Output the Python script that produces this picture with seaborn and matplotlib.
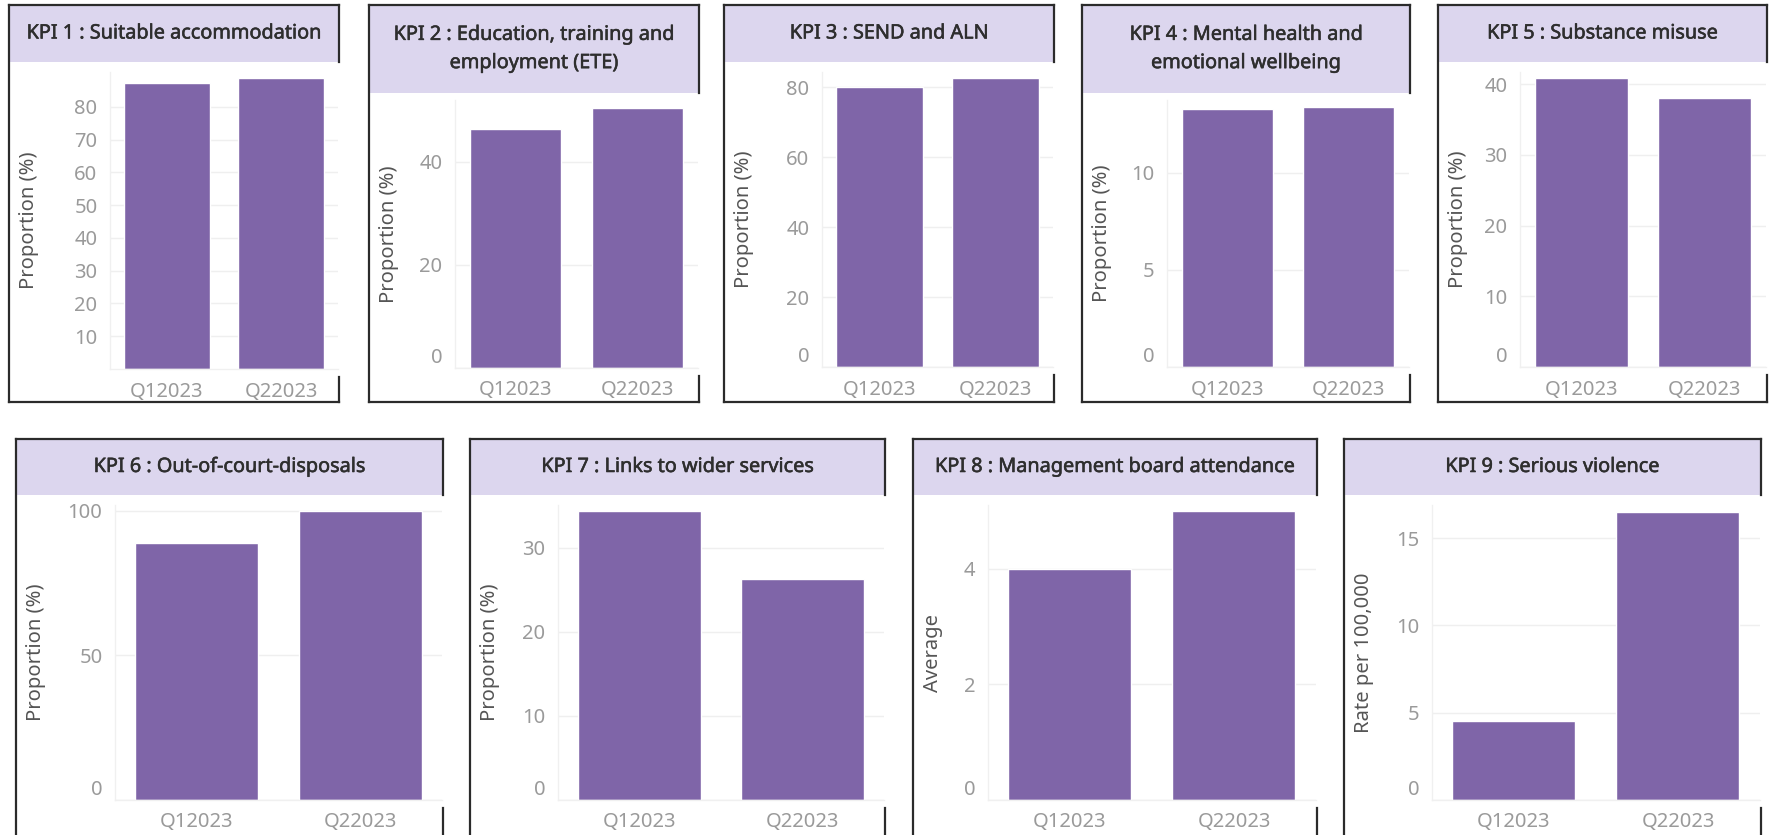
import matplotlib
matplotlib.use("Agg")
import matplotlib.pyplot as plt
import matplotlib.patheffects as pe
from matplotlib.lines import Line2D
from matplotlib.patches import Rectangle
import seaborn as sns
import pandas as pd

# ---- data -------------------------------------------------------------
quarters = ["Q12023", "Q22023"]

titles = [
    "KPI 1 : Suitable accommodation",
    "KPI 2 : Education, training and\nemployment (ETE)",
    "KPI 3 : SEND and ALN",
    "KPI 4 : Mental health and\nemotional wellbeing",
    "KPI 5 : Substance misuse",
    "KPI 6 : Out-of-court-disposals",
    "KPI 7 : Links to wider services",
    "KPI 8 : Management board attendance",
    "KPI 9 : Serious violence",
]

kpi1 = [87.2, 88.7]
kpi2 = [46.4, 50.5]
kpi3 = [80.0, 82.6]
kpi4 = [13.3, 13.4]
kpi5 = [40.9, 38.0]
kpi6 = [89.0, 100.0]
kpi7 = [34.4, 26.3]
kpi8 = [4.0, 5.0]
kpi9 = [4.5, 16.5]

y_labels = ["Proportion (%)"] * 7 + ["Average", "Rate per 100,000"]

y_ticks = [
    [10, 20, 30, 40, 50, 60, 70, 80],
    [0, 20, 40],
    [0, 20, 40, 60, 80],
    [0, 5, 10],
    [0, 10, 20, 30, 40],
    [0, 50, 100],
    [0, 10, 20, 30],
    [0, 2, 4],
    [0, 5, 10, 15],
]

y_max = [90.6, 52.0, 84.3, 13.76, 41.7, 102.0, 35.1, 5.1, 16.9]

series = [kpi1, kpi2, kpi3, kpi4, kpi5, kpi6, kpi7, kpi8, kpi9]

# ---- layout (pixels) ---------------------------------------------------
W, H = 1774, 835
BAR = "#7F65A8"
HEAD = "#DCD6EE"
EDGE = "#2b2b2b"
TITLE_C = "#2e2e2e"

# box_left, box_right, box_top, box_bottom, header_bottom, axes_left, axes_top, axes_bottom
layout = [
    (9, 339, 5, 402, 62, 110, 72, 369),
    (369, 699, 5, 402, 93, 455, 100, 368),
    (724, 1054, 5, 402, 62, 822, 72, 367),
    (1082, 1410, 5, 402, 93, 1167, 100, 367),
    (1438, 1767, 5, 402, 62, 1520, 72, 367),
    (16, 443, 439, 850, 495, 115, 505, 800),
    (470, 885, 439, 850, 495, 558, 505, 800),
    (913, 1317, 439, 850, 495, 988, 505, 800),
    (1344, 1761, 439, 850, 495, 1432, 505, 800),
]

sns.set_theme(style="white")
plt.rcParams["font.family"] = ["Noto Sans", "DejaVu Sans"]

fig = plt.figure(figsize=(W / 100, H / 100), dpi=100)
fig.patch.set_facecolor("white")


def fx(px):
    return px / W


def fy(py):
    return 1 - py / H


def fline(x0, y0, x1, y1):
    fig.add_artist(Line2D([fx(x0), fx(x1)], [fy(y0), fy(y1)],
                          transform=fig.transFigure, color=EDGE, lw=1.6,
                          solid_capstyle="projecting", zorder=5))


for i, (bl, br, bt, bb, hb, al, at, ab) in enumerate(layout):
    # header band with the KPI title
    fig.add_artist(Rectangle((fx(bl), fy(hb)), fx(br) - fx(bl), fy(bt) - fy(hb),
                             transform=fig.transFigure, facecolor=HEAD,
                             edgecolor="none", zorder=1))
    fig.text(fx((bl + br) / 2), fy((bt + hb) / 2), titles[i], ha="center",
             va="center", fontsize=14.3, color=TITLE_C, linespacing=1.55,
             zorder=6,
             path_effects=[pe.withStroke(linewidth=0.4, foreground=TITLE_C)])

    # panel frame
    fline(bl, bt, br, bt)
    fline(bl, bt, bl, bb)
    fline(br, bt, br, hb)
    fline(br, ab + 8, br, bb)
    if bb < H:
        fline(bl, bb, br, bb)

    # bar chart
    ax = fig.add_axes([fx(al), fy(ab), fx(br - 1) - fx(al), fy(at) - fy(ab)])
    df = pd.DataFrame({"Quarter": quarters, "Value": series[i]})
    sns.barplot(data=df, x="Quarter", y="Value", ax=ax, color=BAR,
                saturation=1, width=0.75)
    ax.set_ylim(0, y_max[i])
    ax.set_yticks(y_ticks[i])
    ax.set_yticklabels([str(t) for t in y_ticks[i]])
    for t, lab in zip(y_ticks[i], ax.get_yticklabels()):
        if t == 0:
            lab.set_va("bottom")
    ax.grid(axis="y", color="#efefef", lw=1)
    ax.set_axisbelow(True)
    for s in ["top", "right"]:
        ax.spines[s].set_visible(False)
    for s in ["left", "bottom"]:
        ax.spines[s].set_color("#f0f0f0")
        ax.spines[s].set_linewidth(1)
    ax.tick_params(axis="both", length=0, labelsize=14.5, labelcolor="#9a9a9a")
    ax.tick_params(axis="y", pad=9)
    ax.tick_params(axis="x", pad=9)
    ax.set_xlabel("")
    ax.set_ylabel(y_labels[i], fontsize=14.5, color="#555555")
    # place the y label a fixed distance from the panel's left edge
    lab_x = (bl + 30 - al) / (br - 1 - al)
    ax.yaxis.set_label_coords(lab_x, 0.5)

fig.savefig("out.png", dpi=100, facecolor="white")
